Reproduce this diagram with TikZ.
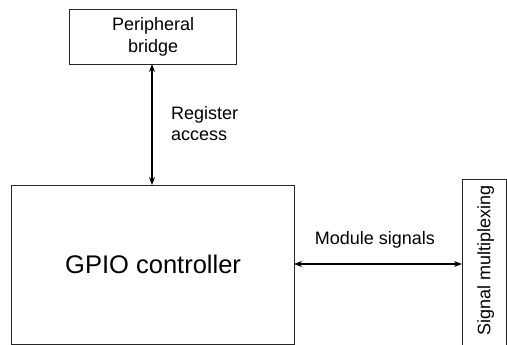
\documentclass[tikz,border=0pt]{standalone}
\usepackage{fontspec}
\setmainfont{Liberation Sans}
\usetikzlibrary{arrows.meta}
\begin{document}
\begin{tikzpicture}[x=1pt,y=-1pt,
  boxline/.style={draw=black!85,line width=1.2pt},
  lbl/.style={font=\fontsize{18}{21}\selectfont,inner sep=0pt,align=left},
  biarrow/.style={{Stealth[length=8pt,width=6pt]}-{Stealth[length=8pt,width=6pt]},line width=1.2pt,draw=black}]
\useasboundingbox (0,0) rectangle (507,345);
\node[boxline,minimum width=167pt,minimum height=55pt,inner sep=0pt,anchor=north west,
  font=\fontsize{18}{22}\selectfont,align=center] (pb) at (69,9) {Peripheral\\bridge};
\node[boxline,minimum width=283pt,minimum height=158.5pt,inner sep=0pt,anchor=north west,
  font=\fontsize{25.5}{30}\selectfont] (gpio) at (11,185) {GPIO controller};
\node[boxline,minimum width=44pt,minimum height=167pt,inner sep=0pt,anchor=north west] (sm) at (462,179) {};
\node[lbl,rotate=90] (smt) at ([xshift=1pt,yshift=2.5pt]sm.center) {Signal multiplexing};
\coordinate (pbb) at (152,64);
\coordinate (gt) at (152,185);
\draw[biarrow] (pbb) -- (gt);
\node[lbl,anchor=west] (ra) at (171,124) {Register\\access};
\coordinate (gr) at (294,264);
\coordinate (sl) at (462,264);
\draw[biarrow] (gr) -- (sl);
\node[lbl] (ms) at (375,240) {Module signals};
\end{tikzpicture}
\end{document}
